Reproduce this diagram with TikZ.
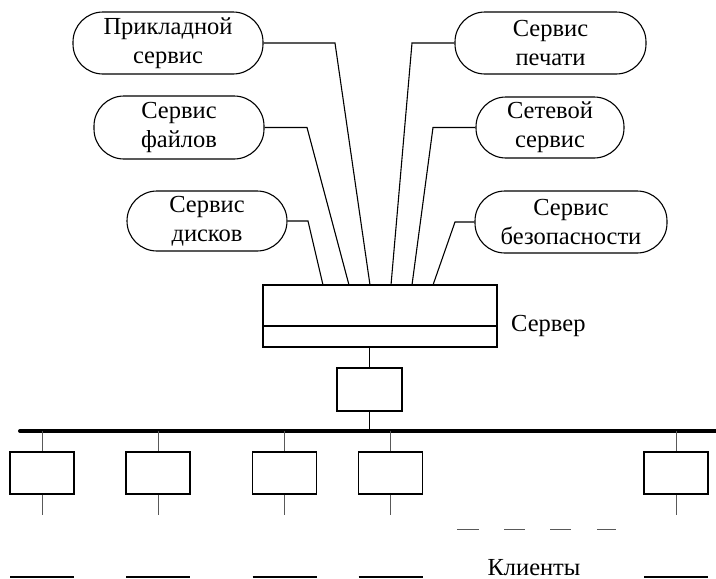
\documentclass[tikz,border=0pt]{standalone}
\usepackage{fontspec}
\setmainfont{Liberation Serif}
\begin{document}
\begin{tikzpicture}[x=1pt,y=-1pt,
  pill/.style={draw, line width=1.1pt, rounded corners=30pt, inner sep=0pt, align=center, font=\fontsize{24.5}{29}\selectfont},
  box/.style={draw, line width=1.1pt, inner sep=0pt},
  cbox/.style={box, minimum width=64pt, minimum height=42pt},
  wire/.style={line width=1.1pt},
  thin/.style={line width=0.9pt, black!65},
  lbl/.style={font=\fontsize{24.5}{29}\selectfont, inner sep=0pt}]
\useasboundingbox (0,0) rectangle (716,579);

% services
\node[pill, minimum width=190pt, minimum height=62pt] (p1) at (168,43) {Прикладной\\сервис};
\node[pill, minimum width=170pt, minimum height=63pt] (p2) at (179,127.5) {Сервис\\файлов};
\node[pill, minimum width=160pt, minimum height=60pt] (p3) at (207,221) {Сервис\\дисков};
\node[pill, minimum width=191pt, minimum height=62pt] (p4) at (550.5,43) {Сервис\\печати};
\node[pill, minimum width=148pt, minimum height=61pt] (p5) at (550,127.5) {Сетевой\\сервис};
\node[pill, minimum width=192pt, minimum height=62pt] (p6) at (571,222) {Сервис\\безопасности};

% server
\node[box, minimum width=234pt, minimum height=62pt] (server) at (380,316) {};
\draw[wire] ([yshift=-10pt]server.west) -- ([yshift=-10pt]server.east);
\node[lbl, anchor=west] (slabel) at (511,326) {Сервер};

% server top attach points
\coordinate (s1) at (323,285);
\coordinate (s2) at (349,285);
\coordinate (s3) at (370,285);
\coordinate (s4) at (391,285);
\coordinate (s5) at (412,285);
\coordinate (s6) at (433,285);

\draw[wire] (p1.east) -- (335,43) -- (s3);
\draw[wire] (p2.east) -- (307,127.5) -- (s2);
\draw[wire] (p3.east) -- (308,221) -- (s1);
\draw[wire] (p4.west) -- (412,43) -- (s4);
\draw[wire] (p5.west) -- (433,127.5) -- (s5);
\draw[wire] (p6.west) -- (455,222) -- (s6);

% hub
\node[box, minimum width=65pt, minimum height=43pt] (hub) at (369.5,389.5) {};
\coordinate (busL) at (20,431);
\coordinate (busR) at (716,431);
\draw[line width=4pt, line cap=round] (busL) -- (busR);
\draw[wire] (hub.north) -- (hub.north |- server.south);
\draw[wire] (hub.south) -- (hub.south |- busL);

% clients
\foreach \i/\x in {1/42,2/158,3/284.5,4/390.5,5/676} {
  \node[cbox] (c\i) at (\x,473) {};
  \coordinate (t\i) at (\x,431);
  \coordinate (b\i) at (\x,515);
  \draw[thin] (t\i) -- (c\i.north);
  \draw[thin] (c\i.south) -- (b\i);
  \coordinate (l\i) at ([xshift=-32pt]\x,577);
  \coordinate (r\i) at ([xshift=32pt]\x,577);
  \draw[line width=1.2pt] (l\i) -- (r\i);
}

% dashes
\foreach \a/\b in {457/479,504/525,550/571,597/616} {
  \coordinate (da\a) at (\a,529);
  \coordinate (db\a) at (\b,529);
  \draw[thin] (da\a) -- (db\a);
}

\node[lbl, anchor=base] (clients) at (534,575) {Клиенты};
\end{tikzpicture}
\end{document}
